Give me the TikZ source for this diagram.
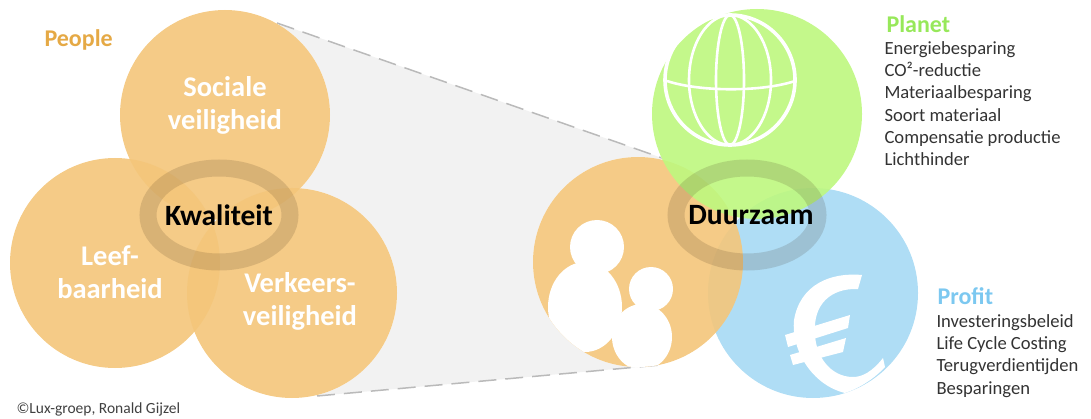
\documentclass[tikz,border=0pt]{standalone}
\usepackage{fontspec}
\setmainfont{Carlito}
\usepackage{tikz}
\usetikzlibrary{calc}
\definecolor{PeopleFill}{HTML}{F4C67A}
\definecolor{PlanetFill}{HTML}{BEF87F}
\definecolor{ProfitFill}{HTML}{A7DAF4}
\definecolor{PeopleText}{HTML}{E5A945}
\definecolor{PlanetText}{HTML}{97E85A}
\definecolor{ProfitText}{HTML}{7CC8F0}
\tikzset{
	pillar/.style={fill=#1, fill opacity=0.9, draw=none},
	ringband/.style={draw=black!70!brown, draw opacity=0.15, line width=17pt},
	inner/.style={text=white, align=center, font=\fontsize{28.5}{33}\bfseries\selectfont},
	centre/.style={text=black, font=\fontsize{29.5}{30}\bfseries\selectfont},
	heading/.style={anchor=west, font=\fontsize{24}{24}\bfseries\selectfont},
	listing/.style={anchor=north west, align=left, text=black!80, font=\fontsize{18.6}{22.2}\selectfont},
	zoomline/.style={draw=black!27, line width=1.5pt, dash pattern=on 18pt off 9pt},
	icon/.style={draw=white, line width=2.6pt},
}
\begin{document}
\begin{tikzpicture}[x=1pt, y=-1pt]
	\useasboundingbox (0,0) rectangle (1091,419);

	\coordinate (Sociale) at (225,115);
	\coordinate (Leef) at (115,263);
	\coordinate (Verkeer) at (292,293);
	\coordinate (People) at (638,262);
	\coordinate (Planet) at (757,114);
	\coordinate (Profit) at (813,293);
	\coordinate (topL) at (277,23);
	\coordinate (topR) at (662,158);
	\coordinate (botL) at (317,396);
	\coordinate (botR) at (660,365);

	% the grey wedge between both groups
	\fill[black!5] (topL) -- (topR) -- (People) -- (botR) -- (botL) -- (Verkeer) -- (Sociale) -- cycle;
	\draw[zoomline] (topL) -- (topR);
	\draw[zoomline] (botL) -- (botR);

	% white under the circles, so that the wedge does not shine through
	\foreach \c in {Sociale, Leef, Verkeer, People, Planet, Profit}
		\fill[white] (\c) circle (105);

	\fill[pillar=PeopleFill] (Sociale) circle (105);
	\fill[pillar=PeopleFill] (Leef) circle (105);
	\fill[pillar=PeopleFill] (Verkeer) circle (105);

	\fill[pillar=ProfitFill] (Profit) circle (105);
	\fill[pillar=PeopleFill] (People) circle (105);
	\fill[pillar=PlanetFill] (Planet) circle (105);

	\draw[ringband] (219,215) ellipse (71 and 47);
	\draw[ringband] (747,215) ellipse (71 and 47);

	% globe
	\draw[icon, line width=3.6pt] (730,80) circle (65);
	\draw[icon] (730,80) ellipse (14 and 65);
	\draw[icon] (730,80) ellipse (41 and 65);
	\draw[icon] (667,81) .. controls (700,92) and (762,92) .. (795,81);

	% people
	\begin{scope}
		\clip (People) circle (105);
		\fill[white] (597,247) circle (27);
		\fill[white] (585,307) ellipse (37 and 45);
		\fill[white] (651,289) circle (22);
		\fill[white] (642,337) ellipse (30 and 33);
	\end{scope}

	% euro
	\fill[white] (862,275) .. controls (830,272) and (800,285) .. (794,320)
		.. controls (791,350) and (812,385) .. (845,393)
		.. controls (860,388) and (875,378) .. (885,367) -- (883,358)
		.. controls (872,372) and (862,377) .. (853,377)
		.. controls (830,377) and (815,355) .. (815,333)
		.. controls (813,305) and (830,288) .. (858,289) -- cycle;
	\fill[white] (785,335) -- (850,315) -- (848,328) -- (788,347) -- cycle;
	\fill[white] (790,355) -- (846,338) -- (843,352) -- (793,365) -- cycle;

	\node[heading, text=PeopleText] (peopleLabel) at (41,40) {People};
	\node[inner] (socialeLabel) at (225,105) {Sociale\\veiligheid};
	\node[inner] (leefLabel) at (110,272) {Leef-\\baarheid};
	\node[inner] (verkeerLabel) at (300,301) {Verkeers-\\veiligheid};
	\node[centre] (kwaliteitLabel) at (219,215) {Kwaliteit};
	\node[centre] (duurzaamLabel) at (751,215) {Duurzaam};

	\node[heading, text=PlanetText] (planetLabel) at (883,24) {Planet};
	\node[listing] (planetList) at (881,38) {Energiebesparing\\CO²-reductie\\Materiaalbesparing\\Soort materiaal\\Compensatie productie\\Lichthinder};
	\node[heading, text=ProfitText] (profitLabel) at (934,296) {Profit};
	\node[listing] (profitList) at (933,311) {Investeringsbeleid\\Life Cycle Costing\\Terugverdientijden\\Besparingen};

	\node[anchor=west, text=black!75, font=\fontsize{15.5}{17}\selectfont] (credit) at (13,409) {©Lux-groep, Ronald Gijzel};
\end{tikzpicture}
\end{document}
